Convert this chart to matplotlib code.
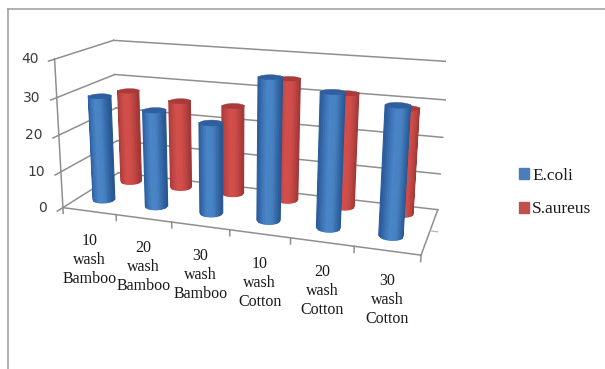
import numpy as np
import matplotlib
matplotlib.use("Agg")
import matplotlib.pyplot as plt
from matplotlib.colors import LinearSegmentedColormap
from matplotlib.lines import Line2D
from matplotlib.patches import Patch
from mpl_toolkits.mplot3d import proj3d
from mpl_toolkits.mplot3d.art3d import Poly3DCollection

categories = ["10\nwash\nBamboo", "20\nwash\nBamboo", "30\nwash\nBamboo",
              "10\nwash\nCotton", "20\nwash\nCotton", "30\nwash\nCotton"]
ecoli = [29, 26.5, 24.5, 37.5, 35, 33]
saureus = [27, 25.3, 25.2, 33.9, 31.2, 28.5]
z_ticks = [0, 10, 20, 30, 40]

W, H = 605, 369
GRID = "#8f8f8f"
SERIF = "Liberation Serif"

# camera and box settings for the 3D floor and walls
ELEV, AZIM, ROLL, FOCAL = 15.51, -71.39, -0.35, 0.395
BOX = (1, 0.3386, 0.4231)
SCALE, TX, TY = 2170.24, 250.86, 136.27

fig = plt.figure(figsize=(W / 100, H / 100), dpi=100)
ax = fig.add_axes([0, 0, 1, 1], projection="3d", computed_zorder=False)
ax.set_xlim(0, 6, view_margin=0)
ax.set_ylim(0, 1, view_margin=0)
ax.set_zlim(0, 40, view_margin=0)
ax.view_init(elev=ELEV, azim=AZIM, roll=ROLL)
ax.set_proj_type("persp", focal_length=FOCAL)
ax.set_box_aspect(BOX)
ax.set_axis_off()
ax.patch.set_alpha(0)

# place the axes box so view coordinates land on the right pixels
(x0, y0), (x1, y1) = ax.transLimits.inverted().transform([(0, 0), (1, 1)])
left = TX + SCALE * x0
bottom = H - (TY - SCALE * y0)
ax.set_position([left / W, bottom / H, SCALE * (x1 - x0) / W, SCALE * (y1 - y0) / H])


def line3d(xs, ys, zs, **kw):
    ax.plot(xs, ys, zs, color=kw.pop("color", GRID), lw=kw.pop("lw", 1.1), zorder=1, **kw)


# walls and floor
for z in z_ticks:
    line3d([0, 6], [1, 1], [z, z])
    line3d([0, 0], [0, 1], [z, z])
    line3d([0, 0], [-0.09, 0], [z, z])
line3d([0, 0], [0, 0], [0, 40])
line3d([0, 6], [0, 0], [0, 0])
line3d([6, 6], [0, 1], [0, 0])
for i in range(7):
    line3d([i, i], [0, 0], [0, -1.6])
line3d([6, 6.12], [0.5, 0.5], [0, 0], color="#b5b5b5", lw=0.9)

blue_cmap = LinearSegmentedColormap.from_list(
    "blue", ["#2b5c9c", "#3d74b6", "#4a86c8", "#4781c2", "#3569a9", "#285690"])
red_cmap = LinearSegmentedColormap.from_list(
    "red", ["#a83c3a", "#c24644", "#d24f4c", "#cf4c49", "#b94341", "#9e3735"])


def cylinder(xc, yc, value, cmap, cap, zorder, r=0.19):
    ry = (r / 6) / BOX[1]
    # side wall: camera facing half, cut into strips of equal apparent width
    side = np.radians(AZIM) + np.arcsin(np.linspace(-1, 1, 15))
    cx = xc + r * np.cos(side)
    cy = yc + ry * np.sin(side)
    polys = [[(cx[k], cy[k], 0), (cx[k + 1], cy[k + 1], 0),
              (cx[k + 1], cy[k + 1], value), (cx[k], cy[k], value)] for k in range(len(side) - 1)]
    fc = cmap(np.linspace(0, 1, len(polys)))
    wall = Poly3DCollection(polys, facecolors=fc, edgecolors=fc, linewidths=0.8, zorder=zorder)
    wall.set_snap(False)
    ax.add_collection3d(wall)
    # flat top
    t = np.radians(np.linspace(0, 360, 73))
    verts = np.c_[xc + r * np.cos(t), yc + ry * np.sin(t), np.full_like(t, value)]
    ax.add_collection3d(Poly3DCollection([verts], facecolor=cap, edgecolor=cap, lw=0.3, zorder=zorder + 0.5))


for i in range(6):
    cylinder(i + 0.45, 0.82, saureus[i], red_cmap, "#a83a3a", 3 + i * 0.01)
for i in range(6):
    cylinder(i + 0.45, 0.30, ecoli[i], blue_cmap, "#2f5f9e", 5 + i * 0.01)

# text labels sit at pixel offsets from projected points on the axes
M = ax.get_proj()
for z in z_ticks:
    px, py, _ = proj3d.proj_transform(0, 0, z, M)
    ax.annotate(str(z), (px, py), xytext=(-16, 0), textcoords="offset pixels",
                ha="right", va="center", fontsize=10, color="#3c3c3c", annotation_clip=False)
for i, label in enumerate(categories):
    px, py, _ = proj3d.proj_transform(i + 0.5, 0, 0, M)
    ax.annotate(label, (px, py), xytext=(0, -22), textcoords="offset pixels",
                ha="center", va="top", fontsize=11.5, family=SERIF, color="#1a1a1a",
                linespacing=1.25, annotation_clip=False)

fig.legend(handles=[Patch(color="#4a7ebb", label="E.coli"), Patch(color="#c0504d", label="S.aureus")],
           loc="upper left", bbox_to_anchor=(519 / W, 1 - 168 / H), frameon=False,
           prop={"family": SERIF, "size": 12.5}, handlelength=0.55, handleheight=0.6,
           handletextpad=0.2, labelspacing=1.0, labelcolor="#1a1a1a",
           borderpad=0, borderaxespad=0)

# chart border, only the top and left edges fall inside the frame
fig.add_artist(Line2D([8 / W, 1], [1 - 9 / H, 1 - 9 / H], color="#a3a3a3", lw=1.2))
fig.add_artist(Line2D([8 / W, 8 / W], [0, 1 - 9 / H], color="#a3a3a3", lw=1.2))

fig.savefig("out.png", dpi=100)
